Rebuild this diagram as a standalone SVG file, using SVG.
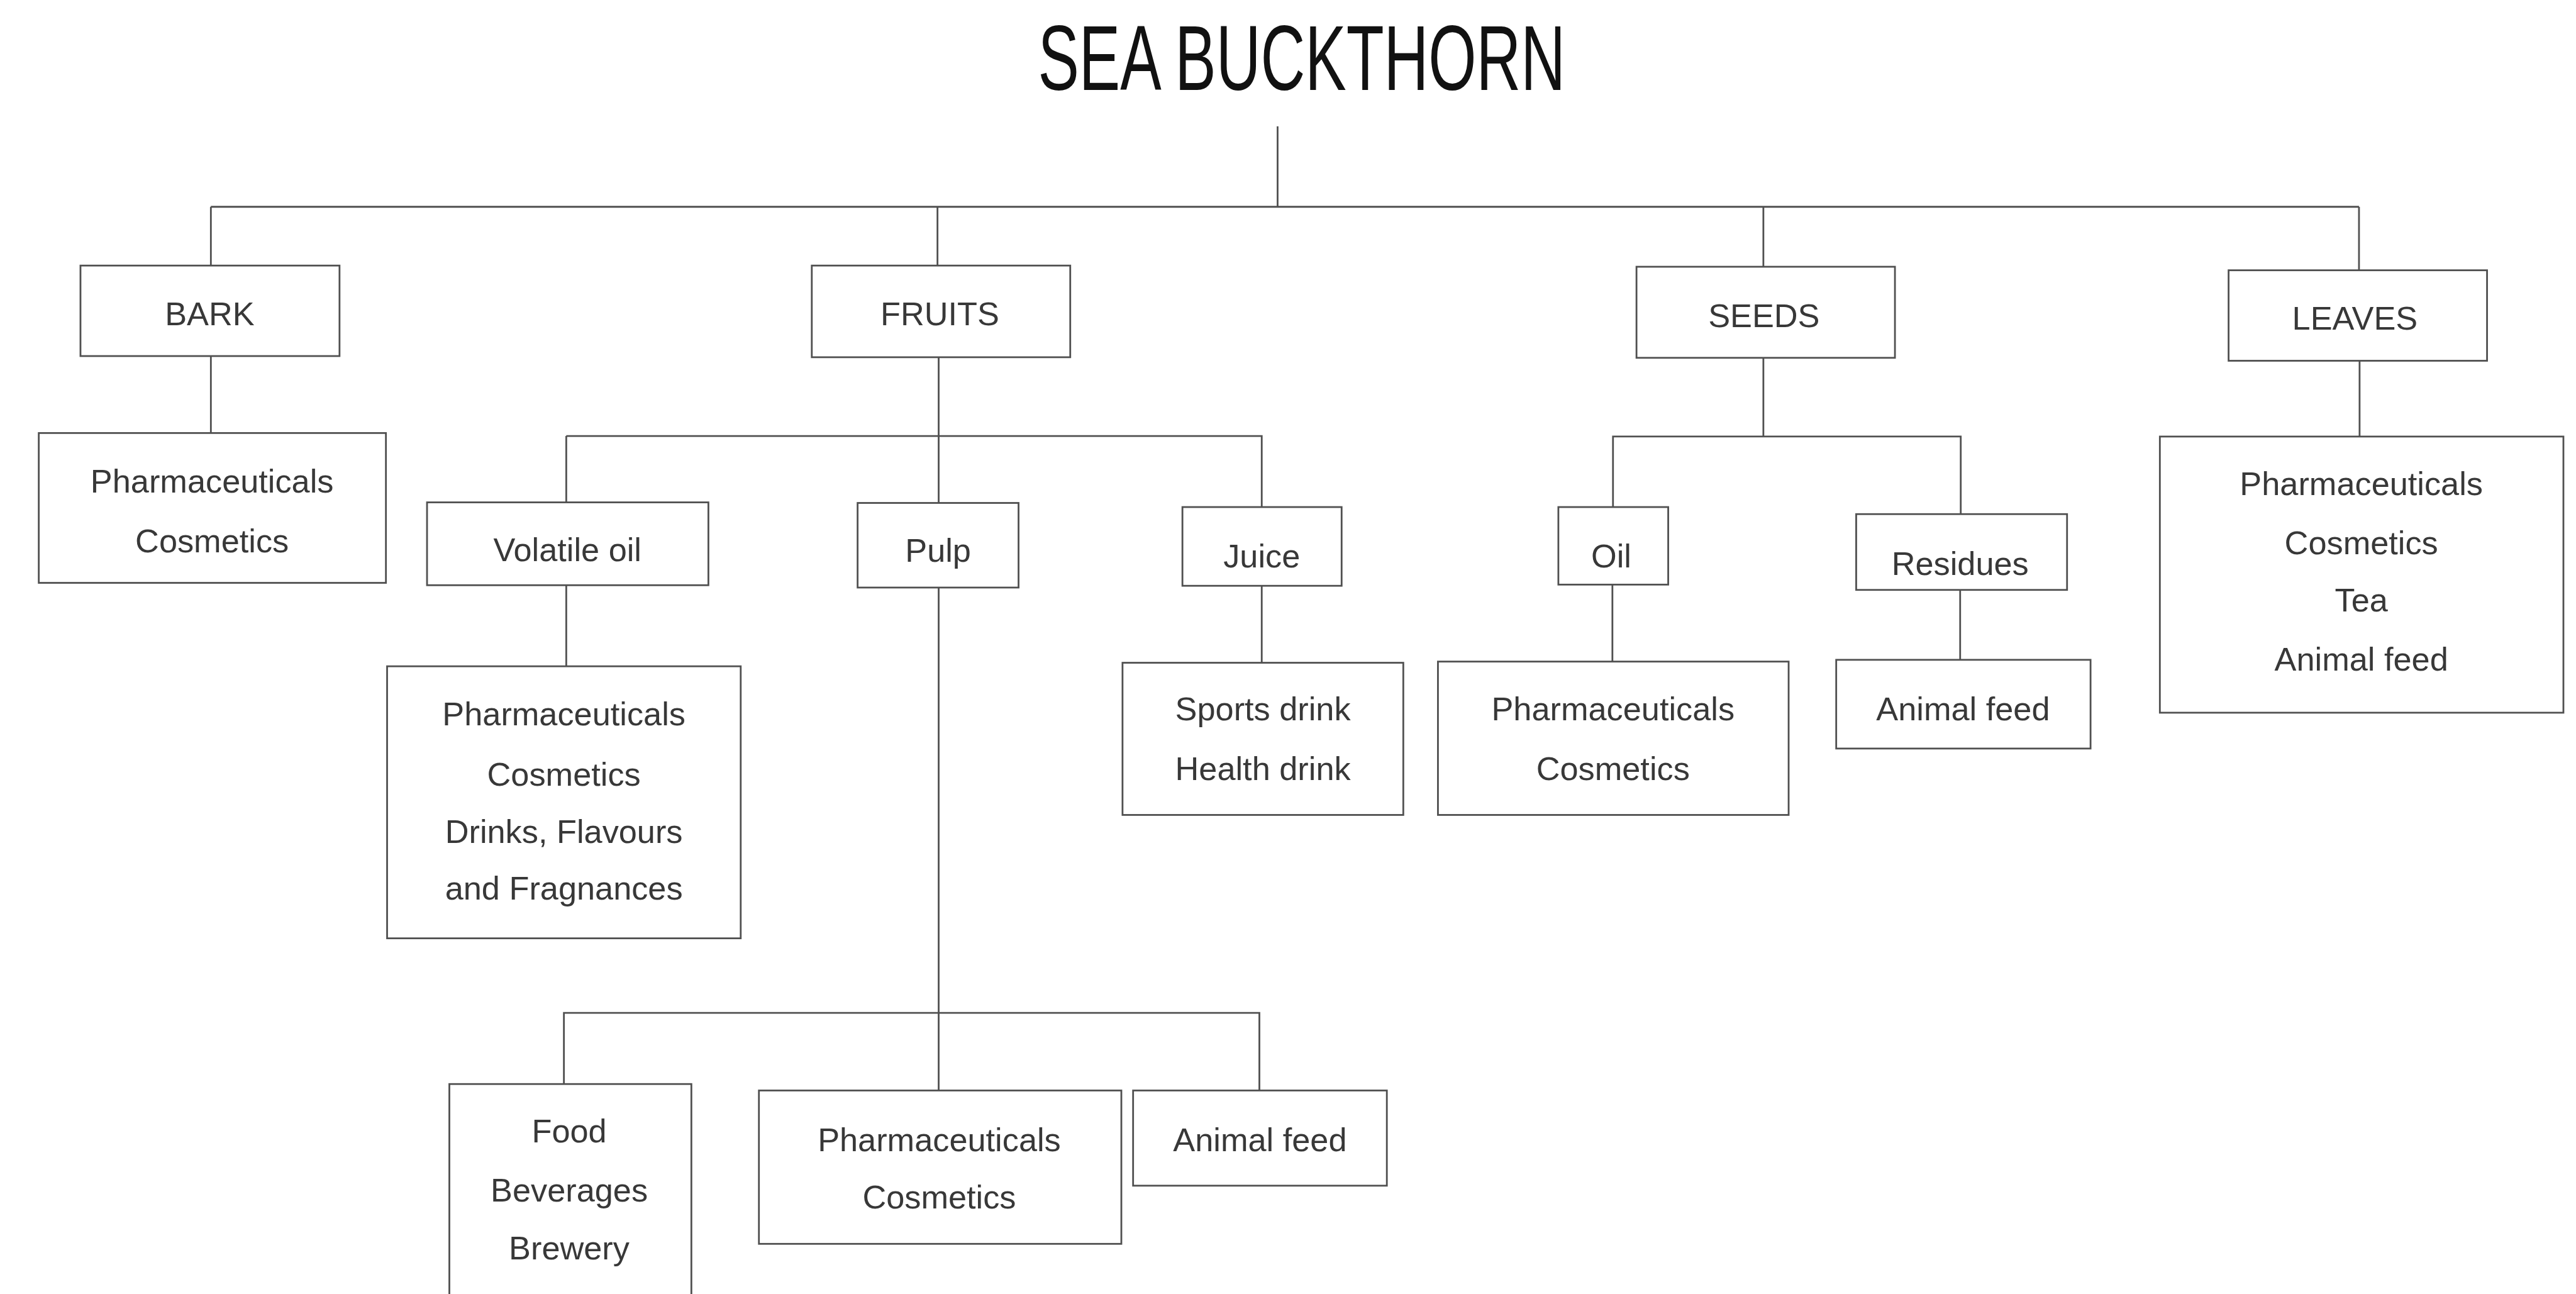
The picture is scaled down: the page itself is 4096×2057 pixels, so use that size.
<svg xmlns="http://www.w3.org/2000/svg" width="4096" height="2057" viewBox="0 0 4096 2057">
<style>
.box{fill:#ffffff;stroke:#505050;stroke-width:3}
.ln{fill:none;stroke:#505050;stroke-width:3}
.t{font-family:"Liberation Sans",Arial,sans-serif;font-size:56px;fill:#383838;text-anchor:middle}
.title{font-family:"Liberation Sans",Arial,sans-serif;font-size:157px;fill:#111111;text-anchor:middle}
</style>
<rect x="0" y="0" width="4096" height="2057" fill="#ffffff"/>
<g transform="scale(0.934)">
<text class="title" x="2216" y="153" textLength="898" lengthAdjust="spacingAndGlyphs">SEA BUCKTHORN</text>
<g id="connectors">
<path class="ln" d="M2175 215V352"/>
<path class="ln" d="M359 352H4016"/>
<path class="ln" d="M359 352V452"/>
<path class="ln" d="M1596 352V452"/>
<path class="ln" d="M3002 352V454"/>
<path class="ln" d="M4016 352V460"/>
<path class="ln" d="M359 606V737"/>
<path class="ln" d="M1598 608V1856"/>
<path class="ln" d="M964 742H2148V863"/>
<path class="ln" d="M964 742V855"/>
<path class="ln" d="M964 996V1134"/>
<path class="ln" d="M2148 997V1128"/>
<path class="ln" d="M960 1845V1724H2144V1856"/>
<path class="ln" d="M3002 609V743"/>
<path class="ln" d="M2746 863V743H3338V875"/>
<path class="ln" d="M2745 995V1126"/>
<path class="ln" d="M3337 1004V1123"/>
<path class="ln" d="M4017 614V743"/>
</g>
<g id="bark"><rect class="box" x="137" y="452" width="441" height="154"/><text class="t" x="357" y="554">BARK</text></g>
<g id="bark-uses"><rect class="box" x="66" y="737" width="591" height="255"/><text class="t" x="361" y="838">Pharmaceuticals</text><text class="t" x="361" y="940">Cosmetics</text></g>
<g id="fruits"><rect class="box" x="1382" y="452" width="440" height="156"/><text class="t" x="1600" y="554">FRUITS</text></g>
<g id="volatile-oil"><rect class="box" x="727" y="855" width="479" height="141"/><text class="t" x="966" y="955">Volatile oil</text></g>
<g id="volatile-uses"><rect class="box" x="659" y="1134" width="602" height="463"/><text class="t" x="960" y="1235">Pharmaceuticals</text><text class="t" x="960" y="1337">Cosmetics</text><text class="t" x="960" y="1435">Drinks, Flavours</text><text class="t" x="960" y="1531">and Fragnances</text></g>
<g id="pulp"><rect class="box" x="1460" y="856" width="274" height="144"/><text class="t" x="1597" y="956">Pulp</text></g>
<g id="juice"><rect class="box" x="2013" y="863" width="271" height="134"/><text class="t" x="2148" y="966">Juice</text></g>
<g id="juice-uses"><rect class="box" x="1911" y="1128" width="478" height="259"/><text class="t" x="2150" y="1226">Sports drink</text><text class="t" x="2150" y="1328">Health drink</text></g>
<g id="seeds"><rect class="box" x="2786" y="454" width="440" height="155"/><text class="t" x="3003" y="557">SEEDS</text></g>
<g id="oil"><rect class="box" x="2653" y="863" width="187" height="132"/><text class="t" x="2743" y="966">Oil</text></g>
<g id="oil-uses"><rect class="box" x="2448" y="1126" width="597" height="261"/><text class="t" x="2746" y="1226">Pharmaceuticals</text><text class="t" x="2746" y="1328">Cosmetics</text></g>
<g id="residues"><rect class="box" x="3160" y="875" width="359" height="129"/><text class="t" x="3337" y="979">Residues</text></g>
<g id="residues-uses"><rect class="box" x="3126" y="1123" width="433" height="151"/><text class="t" x="3342" y="1226">Animal feed</text></g>
<g id="leaves"><rect class="box" x="3794" y="460" width="440" height="154"/><text class="t" x="4009" y="561">LEAVES</text></g>
<g id="leaves-uses"><rect class="box" x="3677" y="743" width="687" height="470"/><text class="t" x="4020" y="843">Pharmaceuticals</text><text class="t" x="4020" y="943">Cosmetics</text><text class="t" x="4020" y="1041">Tea</text><text class="t" x="4020" y="1141">Animal feed</text></g>
<g id="food"><rect class="box" x="765" y="1845" width="412" height="420"/><text class="t" x="969" y="1944">Food</text><text class="t" x="969" y="2045">Beverages</text><text class="t" x="969" y="2144">Brewery</text></g>
<g id="pulp-pharma"><rect class="box" x="1292" y="1856" width="617" height="261"/><text class="t" x="1599" y="1959">Pharmaceuticals</text><text class="t" x="1599" y="2057">Cosmetics</text></g>
<g id="pulp-feed"><rect class="box" x="1929" y="1856" width="432" height="162"/><text class="t" x="2145" y="1959">Animal feed</text></g>
</g>
</svg>
